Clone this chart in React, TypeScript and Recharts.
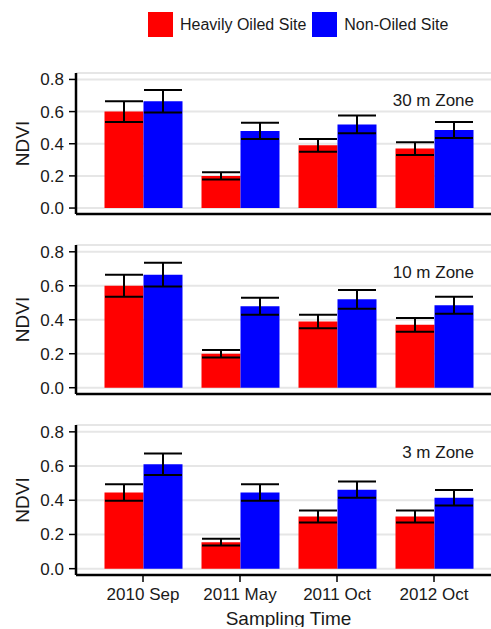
import React from "react";
import { BarChart, Bar, XAxis, YAxis, CartesianGrid, ErrorBar } from "recharts";

const categories = ["2010 Sep", "2011 May", "2011 Oct", "2012 Oct"];

const oiled30 = [0.6, 0.2, 0.39, 0.37];
const oiled30Se = [0.065, 0.022, 0.04, 0.04];
const non30 = [0.665, 0.48, 0.52, 0.485];
const non30Se = [0.07, 0.05, 0.055, 0.05];

const oiled10 = [0.6, 0.2, 0.39, 0.37];
const oiled10Se = [0.065, 0.022, 0.04, 0.04];
const non10 = [0.665, 0.48, 0.52, 0.485];
const non10Se = [0.07, 0.05, 0.055, 0.05];

const oiled3 = [0.445, 0.155, 0.305, 0.305];
const oiled3Se = [0.048, 0.02, 0.035, 0.035];
const non3 = [0.61, 0.445, 0.462, 0.415];
const non3Se = [0.063, 0.048, 0.048, 0.045];

const yTicks = [0, 0.2, 0.4, 0.6, 0.8];

const RED = "#ff0000";
const BLUE = "#0000ff";
const FONT = "Arial, 'Liberation Sans', sans-serif";

const series = [
  { key: "oiled", label: "Heavily Oiled Site", color: RED },
  { key: "non", label: "Non-Oiled Site", color: BLUE },
];

function rows(oiled: number[], oiledSe: number[], non: number[], nonSe: number[]) {
  return categories.map((cat, i) => ({
    cat,
    oiled: oiled[i],
    oiledSe: oiledSe[i],
    non: non[i],
    nonSe: nonSe[i],
  }));
}

function LegendBox() {
  return (
    <div
      style={{
        position: "absolute",
        left: 148,
        top: 12,
        display: "flex",
        alignItems: "center",
        fontFamily: FONT,
        fontSize: 16,
        color: "#1a1a1a",
      }}
    >
      {series.map((s) => (
        <div key={s.key} style={{ display: "flex", alignItems: "center", marginRight: 6 }}>
          <div style={{ width: 25, height: 25, background: s.color, marginRight: 7 }} />
          <span>{s.label}</span>
        </div>
      ))}
    </div>
  );
}

function Panel({
  top,
  plotHeight,
  zone,
  data,
  bottom,
}: {
  top: number;
  plotHeight: number;
  zone: string;
  data: ReturnType<typeof rows>;
  bottom?: boolean;
}) {
  const marginTop = 5;
  const axisH = bottom ? 52 : 10;
  const height = marginTop + plotHeight + axisH;
  return (
    <div style={{ position: "absolute", left: 0, top, width: 506, height }}>
      <BarChart
        width={506}
        height={height}
        data={data}
        margin={{ top: marginTop, right: 5, bottom: 0, left: 26 }}
        barCategoryGap={10}
        barGap={0}
      >
        <CartesianGrid vertical={false} stroke="#e6e6e6" strokeWidth={2} />
        <XAxis
          dataKey="cat"
          height={axisH}
          padding={{ left: 18.5, right: 18.5 }}
          axisLine={{ stroke: "#000", strokeWidth: 2.5 }}
          tickLine={{ stroke: "#000", strokeWidth: 1.5 }}
          tickSize={7}
          tickMargin={6}
          tick={bottom ? { fontSize: 17, fill: "#1a1a1a", fontFamily: FONT } : false}
          label={
            bottom
              ? {
                  value: "Sampling Time",
                  position: "insideBottom",
                  offset: 2,
                  style: { fontSize: 19, fill: "#1a1a1a", fontFamily: FONT },
                }
              : undefined
          }
        />
        <XAxis
          xAxisId="top"
          dataKey="cat"
          orientation="top"
          height={0}
          tick={false}
          tickLine={false}
          axisLine={{ stroke: "#000", strokeWidth: 2.5 }}
        />
        <YAxis
          width={50}
          domain={[-0.037, 0.84]}
          allowDataOverflow
          ticks={yTicks}
          tickFormatter={(v: number) => v.toFixed(1)}
          axisLine={{ stroke: "#000", strokeWidth: 2.5 }}
          tickLine={{ stroke: "#000", strokeWidth: 1.5 }}
          tickSize={7}
          tickMargin={5}
          tick={{ fontSize: 17, fill: "#1a1a1a", fontFamily: FONT }}
          label={{
            value: "NDVI",
            angle: -90,
            position: "insideLeft",
            offset: -4,
            style: { fontSize: 19, fill: "#1a1a1a", fontFamily: FONT, textAnchor: "middle" },
          }}
        />
        {series.map((s) => (
          <Bar key={s.key} dataKey={s.key} name={s.label} fill={s.color} isAnimationActive={false}>
            <ErrorBar
              dataKey={s.key + "Se"}
              width={19}
              stroke="#000"
              strokeWidth={2}
              isAnimationActive={false}
            />
          </Bar>
        ))}
      </BarChart>
      <div
        style={{
          position: "absolute",
          right: 32,
          top: marginTop + 28 - 10,
          fontFamily: FONT,
          fontSize: 17,
          lineHeight: "20px",
          color: "#1a1a1a",
        }}
      >
        {zone}
      </div>
    </div>
  );
}

export default function App() {
  return (
    <div
      style={{
        position: "absolute",
        left: 0,
        top: 0,
        width: 491,
        height: 629,
        overflow: "hidden",
        background: "#fff",
      }}
    >
      <LegendBox />
      <Panel top={68} plotHeight={141} zone="30 m Zone" data={rows(oiled30, oiled30Se, non30, non30Se)} />
      <Panel top={240} plotHeight={149} zone="10 m Zone" data={rows(oiled10, oiled10Se, non10, non10Se)} />
      <Panel top={420} plotHeight={150} zone="3 m Zone" data={rows(oiled3, oiled3Se, non3, non3Se)} bottom />
    </div>
  );
}
